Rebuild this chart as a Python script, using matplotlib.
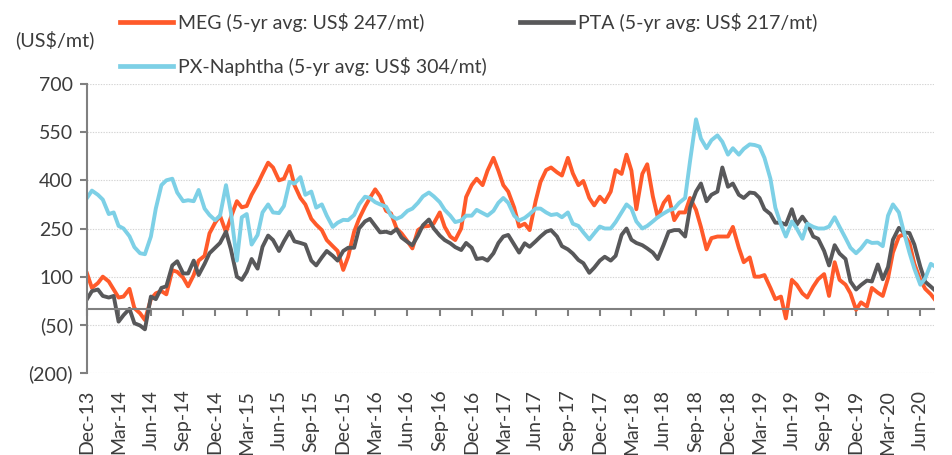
import matplotlib
matplotlib.use('Agg')
import matplotlib.pyplot as plt
import pandas as pd
from matplotlib.lines import Line2D

plt.rcParams['font.family'] = ['Lato', 'DejaVu Sans']

# semi-monthly observations (1st and 15th), Dec-2013 .. Jul-2020
dates = pd.date_range('2013-12-01', periods=160, freq='SMS')

meg = [110, 65, 80, 100, 85, 60, 35, 38, 62, 2,
       -14, -35, 30, 48, 55, 45, 120, 115, 97, 70,
       105, 150, 165, 235, 268, 290, 238, 285, 335, 316,
       320, 355, 388, 420, 455, 440, 400, 405, 445, 385,
       345, 325, 280, 262, 245, 214, 195, 180, 121, 162,
       240, 280, 318, 345, 372, 350, 305, 297, 250, 235,
       210, 188, 245, 256, 258, 266, 300, 255, 225, 214,
       250, 348, 385,
       405, 385, 430, 470, 430, 385, 365, 315, 256, 265,
       245, 335, 395, 432, 440, 425, 415, 470, 422, 385,
       398, 345, 322, 349, 332, 365, 432, 420, 480, 430,
       310, 420, 450, 350, 285, 330, 350, 276, 300, 300,
       345, 308, 255, 185, 220, 225, 225, 225, 255, 190,
       145, 160, 100, 100, 105, 65, 30, 38, -30, 90,
       75, 48, 35, 69, 92, 108, 40, 145, 90, 75,
       48, -3, 20, 7, 65, 50, 40, 95, 175, 225,
       232, 205, 140, 90, 62, 45, 25]

pta = [30, 55, 60, 40, 35, 40, -40, -20, 0, -45,
       -52, -64, 38, 30, 65, 70, 135, 148, 110, 110,
       150, 105, 140, 173, 190, 205, 240, 185, 100, 90,
       115, 155, 125, 193, 228, 214, 180, 210, 240, 210,
       205, 200, 150, 135, 160, 180, 165, 150, 180, 190,
       190, 250, 272, 280, 258, 238, 240, 235, 248, 222,
       208, 198, 228, 260, 278, 250, 228, 214, 204, 192,
       183, 205, 190,
       155, 158, 150, 173, 205, 225, 230, 200, 175, 204,
       193, 210, 225, 240, 245, 225, 195, 185, 172, 152,
       142, 112, 128, 150, 162, 150, 165, 230, 250, 215,
       205, 198, 188, 175, 155, 200, 240, 245, 245, 225,
       315, 365, 390, 335, 355, 365, 440, 380, 390, 355,
       345, 362, 360, 345, 310, 295, 268, 268, 262, 310,
       262, 287, 265, 225, 218, 180, 135, 198, 172, 155,
       85, 60, 74, 88, 85, 138, 92, 130, 215, 252,
       238, 236, 200, 131, 84, 69, 55]

px = [345, 368, 355, 340, 295, 300, 258, 250, 226, 192,
      173, 170, 225, 312, 385, 400, 405, 362, 335, 338,
      335, 370, 312, 292, 276, 290, 385, 300, 150, 285,
      295, 200, 230, 300, 325, 300, 298, 320, 395, 390,
      410, 355, 365, 315, 325, 290, 255, 268, 277, 276,
      292, 325, 349, 345, 332, 325, 318, 290, 280, 287,
      305, 312, 330, 350, 362, 350, 332, 308, 290, 270,
      275, 290, 290,
      308, 298, 290, 305, 330, 345, 330, 290, 275, 283,
      295, 312, 312, 300, 292, 295, 285, 300, 265, 258,
      238, 216, 235, 256, 250, 250, 270, 300, 325, 312,
      272, 250, 258, 272, 285, 297, 306, 312, 330, 345,
      460, 590, 530, 500, 525, 540, 520, 480, 500, 480,
      498, 512, 510, 505, 470, 405, 315, 262, 225, 272,
      250, 218, 265, 255, 250, 250, 256, 285, 255, 220,
      190, 173, 188, 212, 205, 206, 195, 290, 325, 300,
      240, 175, 125, 75, 95, 140, 130]

series_names = ['MEG (5-yr avg: US$ 247/mt)',
                'PTA (5-yr avg: US$ 217/mt)',
                'PX-Naphtha (5-yr avg: US$ 304/mt)']
series_colors = ['#FF5A2A', '#58585A', '#7DD0E6']

tick_dates = pd.date_range('2013-12-01', '2020-06-01', freq='3MS')
tick_labels = [d.strftime('%b-%y') for d in tick_dates]
y_ticks = [-200, -50, 100, 250, 400, 550, 700]
y_labels = ['(200)', '(50)', '100', '250', '400', '550', '700']

text_color = '#3c3c3c'
axis_color = '#808080'

fig = plt.figure(figsize=(9.52, 4.55), dpi=100)
ax = fig.add_axes([87 / 952, 82 / 455, (934 - 87) / 952, 289 / 455])

lines = []
for vals, name, col in zip([meg, pta, px], series_names, series_colors):
    ln, = ax.plot(dates, vals, color=col, lw=2.8, label=name,
                  solid_joinstyle='round')
    lines.append(ln)

ax.set_ylim(-200, 700)
ax.set_xlim(pd.Timestamp('2013-12-01'), pd.Timestamp('2020-07-10'))
ax.set_yticks(y_ticks)
ax.set_yticklabels(y_labels)
ax.yaxis.grid(True, linestyle=(0, (1.2, 1.2)), color='#d4d4d4', lw=0.8)
ax.set_axisbelow(True)

for s in ['top', 'right']:
    ax.spines[s].set_visible(False)
ax.spines['left'].set_color(axis_color)
ax.spines['left'].set_linewidth(1.5)
ax.spines['bottom'].set_position(('data', 0))
ax.spines['bottom'].set_color(axis_color)
ax.spines['bottom'].set_linewidth(1.5)

ax.set_xticks(tick_dates)
ax.tick_params(axis='x', direction='out', length=5, width=1.5, color=axis_color,
               labelbottom=False)
ax.tick_params(axis='y', direction='out', length=5, width=1.5, color=axis_color,
               labelsize=14, labelcolor=text_color, pad=5)

sec = ax.secondary_xaxis(0)
sec.set_xticks(tick_dates)
sec.set_xticklabels(tick_labels, rotation=90)
sec.tick_params(length=0, pad=12, labelsize=14, labelcolor=text_color)
sec.spines['bottom'].set_visible(False)

fig.text(15 / 952, 1 - 40 / 455, '(US$/mt)', fontsize=14.2, color=text_color,
         ha='left', va='center')

leg_pos = [(120, 22), (520, 22), (120, 66)]
for ln, (px_x, px_y) in zip(lines, leg_pos):
    h = Line2D([], [], color=ln.get_color(), lw=3.4)
    fig.legend([h], [ln.get_label()], loc='center left',
               bbox_to_anchor=(px_x / 952, 1 - px_y / 455),
               frameon=False, borderpad=0, borderaxespad=0,
               handlelength=2.7, handletextpad=0.3, fontsize=14,
               labelcolor=text_color)

fig.savefig('out.png', dpi=100)
